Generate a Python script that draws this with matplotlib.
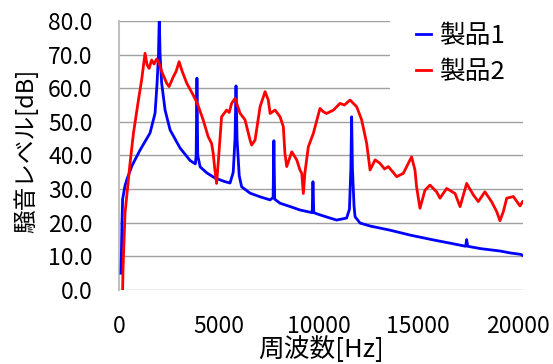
import matplotlib
matplotlib.use("Agg")
import matplotlib.pyplot as plt

plt.rcParams['font.family'] = ['Noto Sans CJK JP', 'DejaVu Sans']

blue_x = [100, 150, 181, 301, 402, 653, 1054, 1557, 1808, 1908, 1978, 2019, 2059, 2139, 2310, 2561,
          3063, 3565, 3827, 3867, 3907, 3947, 4068, 4409, 4811, 5273, 5564, 5725, 5815, 5865, 5916,
          6026, 6147, 6569, 7081, 7573, 7724, 7764, 7804, 8075, 8587, 9069, 9682, 9722, 9763, 10094,
          10576, 10908, 11410, 11550, 11621, 11661, 11701, 11781, 11832, 12083, 12605, 13579, 14614,
          15749, 16623, 17376, 17426, 17476, 18129, 19093, 19636, 20138, 20230]
blue_y = [5, 20, 27, 31, 33, 37, 41.6, 46.7, 52.6, 61.5, 70, 81, 70, 61.5, 53.5, 47.6,
          42.2, 38.5, 37.5, 40, 63, 40, 36.6, 34.8, 33.3, 32.3, 31.8, 35, 45, 60.7, 45,
          34, 30.7, 28.8, 27.7, 26.8, 27.5, 44.4, 27, 25.8, 24.8, 23.8, 23, 32.2, 23, 22.3,
          21.4, 20.8, 21.4, 24, 36, 51.5, 36, 25, 21.8, 19.9, 19, 17.8, 16.3,
          14.9, 13.9, 13, 15, 13, 12.3, 11.6, 11, 10.6, 10.3]

red_x = [181, 201, 301, 452, 552, 723, 974, 1135, 1305, 1406, 1506, 1637, 1757, 1888, 2009, 2139, 2390,
         2511, 2722, 2862, 3013, 3144, 3395, 3716, 3927, 4218, 4469, 4640, 4720, 4801, 4891, 4972,
         5142, 5393, 5524, 5645, 5815, 6066, 6317, 6569, 6649, 6820, 7071, 7322, 7483, 7573, 7824, 8075,
         8236, 8316, 8407, 8658, 8909, 9069, 9160, 9240, 9321, 9491, 9742, 10074, 10245, 10405, 10747,
         11078, 11299, 11580, 11912, 12163, 12414, 12585, 12836, 13077, 13308, 13499, 13921, 14252, 14664,
         14835, 14915, 15086, 15337, 15588, 15920, 16090, 16422, 16844, 17095, 17426, 17758, 18009,
         18340, 18672, 18933, 19093, 19264, 19435, 19766, 20098, 20230]
red_y = [0, 6, 22.8, 31.7, 37.6, 46.6, 56.5, 62.5, 70.4, 67, 65.9, 68.4, 67.2, 68.7, 67.5, 65, 61.5,
         60.5, 63.4, 65, 67.9, 65.4, 61.5, 58, 55.5, 50.6, 45.6, 43.6, 40.7, 36, 31.7, 37.7,
         51.5, 53.5, 52.8, 55.5, 57, 52.6, 50.6, 44.6, 43.1, 44.6, 54.5, 59, 56.5, 52.5, 53.5, 51.5,
         48.6, 40.7, 36.7, 41.1, 38.7, 35.7, 34.7, 28.7, 35, 42.6, 46.6, 54, 53, 52.5, 53.5,
         55.5, 55, 56.5, 54.5, 50.6, 43.6, 35.7, 38.7, 37.7, 36, 36.7, 33.7, 34.7, 39.6,
         35.7, 30.7, 24.3, 29.7, 31.2, 29.2, 27.3, 30.2, 28.7, 24.8, 31.7, 28.3, 26.3,
         29.2, 26.3, 23.3, 20.6, 23.3, 27.3, 27.8, 25, 26.3]

series_names = ['製品1', '製品2']
x_ticks = [0, 5000, 10000, 15000, 20000]
y_ticks = [0, 10, 20, 30, 40, 50, 60, 70, 80]
x_label = '周波数[Hz]'
y_label = '騒音レベル[dB]'

fig = plt.figure(figsize=(5.53, 3.64), dpi=100)
ax = fig.add_axes([119/553, 1-290/364, 404/553, 269/364])

ax.plot(blue_x, blue_y, color='#0000ff', lw=2.0, label=series_names[0], zorder=3)
ax.plot(red_x, red_y, color='#ff0000', lw=2.0, label=series_names[1], zorder=3)

ax.set_xlim(0, 20250)
ax.set_ylim(0, 80)
ax.set_xticks(x_ticks)
ax.set_yticks(y_ticks)
ax.set_yticklabels([f'{v:.1f}' for v in y_ticks])
ax.grid(axis='y', color='#a0a0a0', lw=1.0, zorder=1)
ax.set_axisbelow(True)
for s in ['top', 'right', 'bottom']:
    ax.spines[s].set_visible(False)
ax.spines['left'].set_color('#c0c0c0')
ax.spines['left'].set_linewidth(1.5)
ax.tick_params(length=0, labelsize=16.5, labelcolor='black')
ax.tick_params(axis='y', pad=19)
ax.tick_params(axis='x', pad=18)
ax.set_xlabel(x_label, fontsize=18.5, va='center')
ax.xaxis.set_label_coords(0.5, -(350 - 290) / 269)
ax.set_ylabel(y_label, fontsize=17, va='center')
ax.yaxis.set_label_coords(-(119 - 26) / 404, (290 - 151) / 269)

leg = fig.legend(loc='upper left', bbox_to_anchor=(390/553, 1.008), frameon=True,
                 fontsize=18.5, handlelength=0.6, handletextpad=0.3, labelspacing=0.4,
                 borderaxespad=0, borderpad=1.0)
leg.get_frame().set_facecolor('white')
leg.get_frame().set_edgecolor('none')
leg.get_frame().set_alpha(1)

fig.savefig('out.png', dpi=100)
